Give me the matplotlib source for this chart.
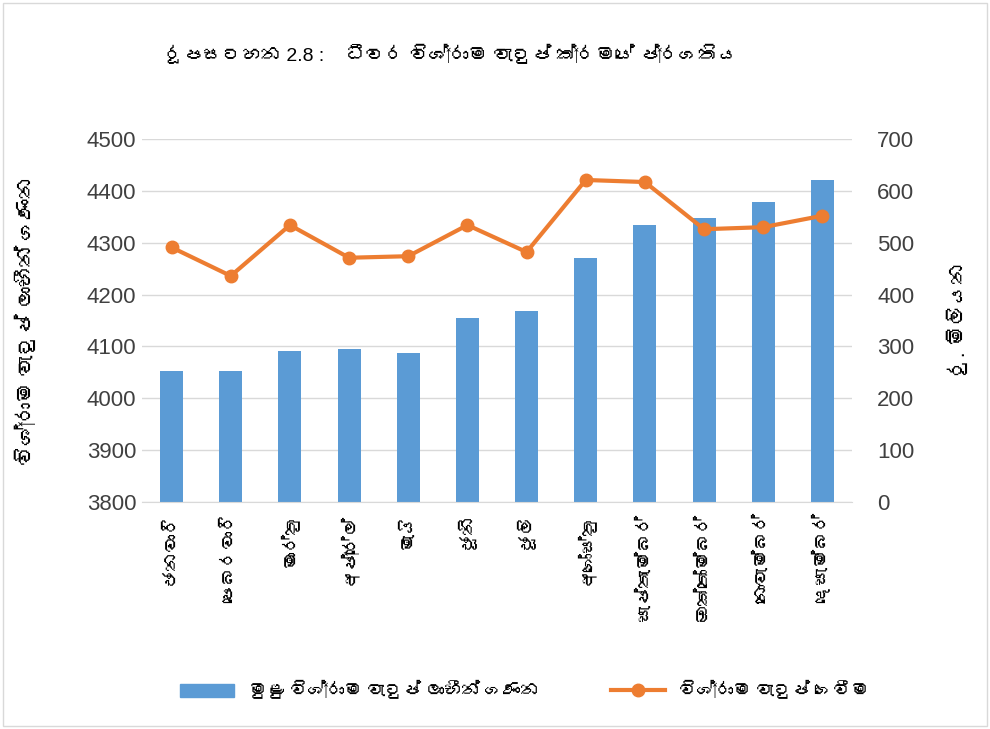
import matplotlib
matplotlib.use("Agg")
import matplotlib.pyplot as plt
from matplotlib import font_manager
from matplotlib.ft2font import FT2Font
from matplotlib.lines import Line2D
from matplotlib.patches import Patch
import numpy as np

# ---------------- data ----------------
months = ["ජනවාරි", "පෙබරවාරි", "මාර්තු", "අප්‍රේල්", "මැයි", "ජූනි",
          "ජූලි", "අගෝස්තු", "සැප්තැම්බර්", "ඔක්තෝම්බර්", "නොවැම්බර්", "දෙසැම්බර්"]
pensioners = [4053, 4053, 4092, 4095, 4088, 4154, 4169, 4270, 4334, 4347, 4379, 4421]
payments = [491, 436, 534, 471, 474, 534, 482, 621, 617, 526, 530, 552]

title = "රූපසටහන 2.8 :    ධීවර විශ්‍රාම වැටුප් ක්‍රමයේ ප්‍රගතිය"
left_label = "විශ්‍රාම වැටුප් ලාභීන් ගණන"
right_label = "රු. මිලියන"
bar_legend = "මුළු විශ්‍රාම වැටුප් ලාභීන් ගණන"
line_legend = "විශ්‍රාම වැටුප් ගෙවීම"

# ---------------- font for Sinhala (if any installed) ----------------
sinhala_family = None
for fe in font_manager.fontManager.ttflist:
    try:
        f = FT2Font(fe.fname)
        if 0x0DC3 in f.get_charmap():
            sinhala_family = fe.name
            break
    except Exception:
        pass
fams = ["Liberation Sans", "DejaVu Sans"] + ([sinhala_family] if sinhala_family else [])
plt.rcParams["font.family"] = fams

bar_color = "#5B9BD5"
line_color = "#ED7D31"

fig = plt.figure(figsize=(9.9, 7.29), dpi=100)
ax = fig.add_axes([142/990, 1 - 502/729, (852-142)/990, (502-139)/729])
ax2 = ax.twinx()

x = np.arange(len(months))
ax.bar(x, pensioners, width=0.39, color=bar_color, zorder=2)
ax.set_ylim(3800, 4500)
ax.set_yticks(np.arange(3800, 4501, 100))
ax.set_xlim(-0.5, len(months) - 0.5)
ax.set_xticks(x)
ax.set_xticklabels(months, rotation=90, fontsize=13)
ax.yaxis.grid(True, color="#D9D9D9", linewidth=1, zorder=0)
ax.set_axisbelow(True)

ax2.plot(x, payments, color=line_color, linewidth=3, marker="o", markersize=9, zorder=3)
ax2.set_ylim(0, 700)
ax2.set_yticks(np.arange(0, 701, 100))

for a in (ax, ax2):
    for s in a.spines.values():
        s.set_visible(False)
    a.tick_params(axis="both", length=0, labelsize=16, colors="#404040")
ax.tick_params(axis="x", labelsize=13, colors="black", pad=8)
ax.tick_params(axis="y", pad=4)
ax2.tick_params(axis="y", pad=18)
ax.spines["bottom"].set_visible(True)
ax.spines["bottom"].set_color("#D9D9D9")

ax.set_ylabel(left_label, fontsize=15, labelpad=36)
ax2.set_ylabel(right_label, fontsize=15, labelpad=24)

fig.text(0.455, 0.925, title, ha="center", va="center", fontsize=14)

handles = [Patch(color=bar_color),
           Line2D([0], [0], color=line_color, lw=3, marker="o", markersize=9)]
fig.legend(handles, [bar_legend, line_legend], loc="center", bbox_to_anchor=(0.53, 0.052),
           ncol=2, frameon=False, fontsize=13, columnspacing=4, handlelength=3)

border = plt.Rectangle((0.003, 0.004), 0.994, 0.992, transform=fig.transFigure,
                       fill=False, edgecolor="#D9D9D9", linewidth=1)
fig.patches.append(border)

fig.savefig("out.png", dpi=100)
